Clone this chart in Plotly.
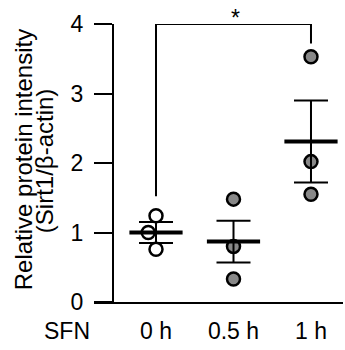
import plotly.graph_objects as go

categories = ["0 h", "0.5 h", "1 h"]
group_label = "SFN"
pts_0h = [1.24, 1.00, 0.76]
pts_05h = [1.48, 0.80, 0.33]
pts_1h = [3.53, 2.02, 1.55]
means = [1.00, 0.87, 2.31]
sems = [0.15, 0.30, 0.59]
sig_left_end = 1.52
sig_right_end = 3.72
sig_level = 4.0
yticks = [0, 1, 2, 3, 4]
title_lines = ["Relative protein intensity", "(Sirt1/β-actin)"]

jitter_0h = [0.0, -0.1, 0.0]

FONT = "Liberation Sans, Arial, sans-serif"
fig = go.Figure()

fig.add_trace(go.Scatter(
    x=[0 + j for j in jitter_0h], y=pts_0h, mode="markers",
    marker=dict(size=13, color="white", line=dict(color="black", width=2.5)),
    cliponaxis=False, showlegend=False))
fig.add_trace(go.Scatter(
    x=[1] * len(pts_05h), y=pts_05h, mode="markers",
    marker=dict(size=13, color="#888888", line=dict(color="black", width=2.5)),
    cliponaxis=False, showlegend=False))
fig.add_trace(go.Scatter(
    x=[2] * len(pts_1h), y=pts_1h, mode="markers",
    marker=dict(size=13, color="#888888", line=dict(color="black", width=2.5)),
    cliponaxis=False, showlegend=False))

# mean + SEM
fig.add_trace(go.Scatter(
    x=[0, 1, 2], y=means, mode="markers",
    marker=dict(symbol="line-ew-open", size=38, color="black",
                line=dict(color="black", width=4)),
    error_y=dict(type="data", array=sems, visible=True, color="black", thickness=2, width=17),
    cliponaxis=False, showlegend=False))

# significance bracket
fig.add_trace(go.Scatter(
    x=[0, 0, 2, 2], y=[sig_left_end, sig_level, sig_level, sig_right_end],
    mode="lines", line=dict(color="black", width=2),
    cliponaxis=False, showlegend=False, hoverinfo="skip"))

fig.add_annotation(x=1.03, y=1.023, xref="x", yref="paper", text="*", showarrow=False,
                   yanchor="middle", font=dict(size=23, color="black", family=FONT))

fig.add_annotation(x=-0.108, y=-0.106, xref="paper", yref="paper", text=group_label,
                   showarrow=False, xanchor="center", yanchor="middle",
                   font=dict(size=23, color="black", family=FONT))

for txt, px in zip(title_lines, [-0.285, -0.201]):
    fig.add_annotation(x=px, y=0.51, xref="paper", yref="paper",
                       text=txt, textangle=-90,
                       showarrow=False, xanchor="center", yanchor="middle",
                       font=dict(size=24, color="black", family=FONT))

fig.update_layout(
    width=345, height=350,
    margin=dict(l=94, r=2, t=24, b=48),
    plot_bgcolor="white", paper_bgcolor="white",
    font=dict(family=FONT, size=23, color="black"),
    xaxis=dict(range=[-0.8, 2.413], tickvals=[0, 1, 2], ticktext=categories,
               showline=True, linecolor="black", linewidth=2, showgrid=False, zeroline=False,
               ticks="outside", ticklen=7, tickcolor="rgba(0,0,0,0)", automargin=False,
               tickfont=dict(size=23, family=FONT)),
    yaxis=dict(range=[0, 4], tickvals=yticks, anchor="free", position=0.0763,
               showline=True, linecolor="black", linewidth=2, showgrid=False, zeroline=False,
               ticks="outside", ticklen=18, tickwidth=2, tickcolor="black", automargin=False,
               ticklabelstandoff=6,
               tickfont=dict(size=23, family=FONT)),
)

fig.write_html("out.html", config={"displayModeBar": False},
               post_script="document.body.style.margin='0';document.body.style.overflow='hidden';")
